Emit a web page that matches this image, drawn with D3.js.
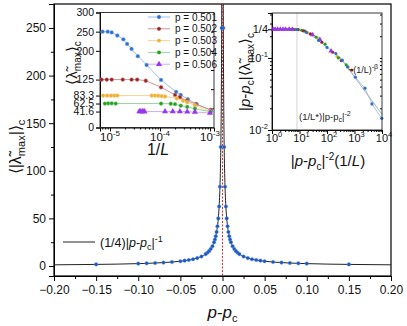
<!DOCTYPE html>
<html><head><meta charset="utf-8">
<script src="https://cdn.jsdelivr.net/npm/d3@7"></script>
<style>body{margin:0;background:#fff}svg{font-family:"Liberation Sans",Arial,sans-serif}</style>
</head><body><svg id="c" width="407" height="326"></svg>
<script>
// ---------- DATA ----------
// main plot: p - pc and <|lambda_max|>_c
const mainDp = [0.001,0.002,0.003,0.004,0.005,0.006,0.007,0.008,0.009,0.010,0.012,0.014,0.016,0.018,0.020,0.025,0.030,0.035,0.040,0.045,0.050,0.060,0.070,0.080,0.090,0.100,0.150];
const mainVal = [250,125,83.3,62.5,50,41.7,35.7,31.3,27.8,25,20.8,17.9,15.6,13.9,12.5,10,8.3,7.1,6.3,5.6,5,4.2,3.6,3.1,2.8,2.5,1.7];
const fitCoef = 0.25; // (1/4)|p-pc|^-1
const mainXTicks = [-0.20,-0.15,-0.10,-0.05,0.00,0.05,0.10,0.15,0.20];
const mainYTicks = [0,50,100,150,200,250];

// inset 1: <lambda_max>_c vs 1/L
const seriesNames = ["p = 0.501","p = 0.502","p = 0.503","p = 0.504","p = 0.506"];
const s501x = [7.1e-6,9.0e-6,1.08e-5,1.4e-5,1.85e-5,2.2e-5,2.7e-5,3.6e-5,5.4e-5,1.05e-4,2.1e-4,2.6e-4,3.6e-4,5.4e-4,1.08e-3];
const s501y = [250,250,248,240,230,218,205,186,163,124,93,85,74,61,44];
const s502x = [6.8e-6,8.6e-6,1.08e-5,1.8e-5,2.7e-5,3.5e-5,5.2e-5,1.05e-4,2.0e-4,2.5e-4,3.5e-4,5.2e-4,1.03e-3];
const s502y = [125,125,125,125,125,125,122,105,85,79,70,61,46];
const s503x = [7.3e-6,8.8e-6,1.05e-5,1.22e-5,1.4e-5,6.8e-5,7.9e-5,9.2e-5,1.08e-4,1.26e-4,2.16e-4,2.9e-4,3.5e-4,5.0e-4,1.0e-3];
const s503y = [83.3,83.3,83.3,83.3,83.3,83.3,83.3,83,82,81,76,70,66,58,42];
const s504x = [7.9e-6,9.2e-6,1.08e-5,1.3e-5,1.05e-4,1.64e-4,2.0e-4,2.6e-4,3.5e-4,5.0e-4,1.03e-3];
const s504y = [62.5,63,63,62.5,62.5,62,61,57,54,49,41];
const s506x = [3.85e-5,4.1e-5,4.4e-5,4.6e-5,4.9e-5,1.26e-4,1.8e-4,2.5e-4,3.5e-4,5.0e-4,1.0e-3];
const s506y = [41.6,41.6,41.6,41.6,41.6,41.6,41.6,41.5,41,40.5,38];
const in1YTicks = [0,41.6,62.5,83.3,125,200,250,300];
const in1YTickLabels = ["0","41.6","62.5","83.3","125","200","250","300"];
const in1XTicks = [1e-5,1e-4,1e-3];

// inset 2: scaling collapse
const colPurpleX = [1.1,1.3,1.6,2.0,2.5,3.1,4.2,5.5,30,55,140];
const colPurpleY = [0.25,0.25,0.25,0.25,0.25,0.25,0.25,0.249,0.21,0.18,0.125];
const colYellowX = [1.2,1.5,1.8,2.3,2.8,3.6,4.8,6.2,7.5,20,45,230,600];
const colYellowY = [0.25,0.25,0.25,0.25,0.25,0.25,0.25,0.249,0.248,0.222,0.19,0.105,0.075];
const colGreenX = [4.0,5.0,6.8,12,16,40,85,260,500];
const colGreenY = [0.25,0.25,0.248,0.242,0.235,0.195,0.155,0.1,0.08];
const colRedX = [5.8,9,14,25,65,160,330,800];
const colRedY = [0.25,0.247,0.238,0.215,0.165,0.12,0.092,0.068];
const colBlueX = [8,18,50,100,210,360,560,1070,2400,4300,9800];
const colBlueY = [0.248,0.226,0.175,0.14,0.115,0.093,0.075,0.054,0.038,0.023,0.0145];
const guideX = [280,10000];
const guideY = [0.105,0.0165];
const crossX = 8.1;
const in2XTicks = [1,10,100,1000,10000];
const in2YTicks = [0.25,0.1,0.01];

// ---------- DRAW ----------
const svg = d3.select("#c");
const F = "Liberation Sans, Arial, sans-serif";

// main scales
const mL=54,mR=391,mT=4,mB=276;
const x = d3.scaleLinear().domain([-0.2,0.2]).range([mL,mR]);
const y = d3.scaleLinear().domain([-10.5,275.2]).range([mB,mT]);

svg.append("g").attr("transform",`translate(0,${mB})`)
  .call(d3.axisBottom(x).tickValues(mainXTicks).tickFormat(d3.format(".2f")).tickSize(5).tickPadding(4));
svg.append("g").attr("transform",`translate(0,${mB})`)
  .call(d3.axisBottom(x).tickValues(d3.range(-0.175,0.2,0.05)).tickFormat("").tickSize(3));
svg.append("g").attr("transform",`translate(${mL},0)`)
  .call(d3.axisLeft(y).tickValues(mainYTicks).tickSize(5).tickPadding(3));
svg.append("g").attr("transform",`translate(${mL},0)`)
  .call(d3.axisLeft(y).tickValues([25,75,125,175,225]).tickFormat("").tickSize(3));
svg.selectAll(".domain").attr("stroke","#000");
svg.selectAll(".tick text").attr("font-size",12).attr("font-family",F).attr("fill","#111");
svg.append("rect").attr("x",mL).attr("y",mT).attr("width",mR-mL).attr("height",mB-mT)
  .attr("fill","none").attr("stroke","#000").attr("stroke-width",1.2);

svg.append("clipPath").attr("id","mclip").append("rect").attr("x",mL).attr("y",mT).attr("width",mR-mL).attr("height",mB-mT);
const mg = svg.append("g").attr("clip-path","url(#mclip)");

// fit curve (1/4)|p-pc|^-1 evaluated at sample abscissae
const fitXs = [0.2,0.15,0.1,0.07,0.05,0.04,0.03,0.025,0.02,0.016,0.013,0.01,0.008,0.0065,0.005,0.004,0.0033,0.0027,0.0022,0.0018,0.0015,0.0012,0.001,0.0009,0.00085];
const fitPts = fitXs.map(d=>[d,fitCoef/d]);
const line = d3.line().x(d=>x(d[0])).y(d=>y(d[1])).curve(d3.curveMonotoneX);
mg.append("path").attr("d",line(fitPts)).attr("fill","none").attr("stroke","#222").attr("stroke-width",1);
mg.append("path").attr("d",line(fitPts.map(d=>[-d[0],d[1]]).reverse())).attr("fill","none").attr("stroke","#222").attr("stroke-width",1);

mg.append("line").attr("x1",x(0)).attr("x2",x(0)).attr("y1",mT).attr("y2",mB)
  .attr("stroke","#d03030").attr("stroke-width",1).attr("stroke-dasharray","2,1.5");

const mainPts = mainDp.flatMap((d,i)=>[[d,mainVal[i]],[-d,mainVal[i]]]);
mg.selectAll("circle.m").data(mainPts).enter().append("circle")
  .attr("cx",d=>x(d[0])).attr("cy",d=>y(d[1])).attr("r",1.8)
  .attr("fill","#1a57c4").attr("stroke","#6a9be0").attr("stroke-width",0.4);

// legend
svg.append("line").attr("x1",63).attr("x2",95).attr("y1",242).attr("y2",242).attr("stroke","#222");
const lt = svg.append("text").attr("x",100).attr("y",246.5).attr("font-size",12.5).attr("font-family",F).attr("fill","#111");
lt.append("tspan").text("(1/4)|");
lt.append("tspan").attr("font-style","italic").text("p");
lt.append("tspan").text("-");
lt.append("tspan").attr("font-style","italic").text("p");
lt.append("tspan").attr("font-size",9).attr("dy",3).text("c");
lt.append("tspan").attr("dy",-3).text("|");
lt.append("tspan").attr("font-size",9).attr("dy",-5).text("-1");

const yl = svg.append("text").attr("transform","translate(21,147) rotate(-90)").attr("text-anchor","middle")
  .attr("font-size",16).attr("font-family",F).attr("fill","#111");
yl.append("tspan").text("\u27E8|\u03BB\u0303");
yl.append("tspan").attr("font-size",11).attr("dy",4).text("max");
yl.append("tspan").attr("dy",-4).text("|\u27E9");
yl.append("tspan").attr("font-size",11).attr("dy",4).text("c");
const xl = svg.append("text").attr("x",x(0)).attr("y",318).attr("text-anchor","middle")
  .attr("font-size",17).attr("font-family",F).attr("fill","#111");
xl.append("tspan").attr("font-style","italic").text("p");
xl.append("tspan").text("-");
xl.append("tspan").attr("font-style","italic").text("p");
xl.append("tspan").attr("font-size",11).attr("dy",4).text("c");

// ---------- INSET 1 ----------
const aL=100,aR=214,aT=12.5,aB=127.5;
svg.append("rect").attr("x",aL).attr("y",aT).attr("width",aR-aL).attr("height",aB-aT).attr("fill","#fff");
const ax = d3.scaleLog().domain([Math.pow(10,-5.2),Math.pow(10,-2.92)]).range([aL,aR]);
const ay = d3.scaleLinear().domain([0,300]).range([aB,aT]);
const g1 = svg.append("g");
const a1y = g1.append("g").attr("transform",`translate(${aL},0)`)
  .call(d3.axisLeft(ay).tickValues(in1YTicks).tickFormat((d,i)=>in1YTickLabels[i]).tickSize(4).tickPadding(2));
a1y.selectAll("text").attr("font-size",10.5).attr("font-family",F).attr("fill","#111");
g1.append("g").attr("transform",`translate(${aR},0)`)
  .call(d3.axisLeft(ay).tickValues([50,100,150,200,250]).tickFormat("").tickSize(3)).select(".domain").remove();
const minor1 = [];
[-6,-5,-4,-3].forEach(e=>{for(let k=2;k<10;k++){const v=k*Math.pow(10,e); if(v>ax.domain()[0]&&v<ax.domain()[1]) minor1.push(v);}});
g1.append("g").attr("transform",`translate(0,${aB})`).call(d3.axisBottom(ax).tickValues(minor1).tickFormat("").tickSize(2)).select(".domain").remove();
g1.append("g").attr("transform",`translate(0,${aB})`)
  .call(d3.axisBottom(ax).tickValues(in1XTicks).tickFormat("").tickSize(4));
in1XTicks.forEach(v=>{
  const t = g1.append("text").attr("x",ax(v)).attr("y",aB+13).attr("text-anchor","middle").attr("font-size",11.5).attr("font-family",F).attr("fill","#111");
  t.append("tspan").text("10");
  t.append("tspan").attr("font-size",8).attr("dy",-5).text(String(Math.round(Math.log10(v))));
});
g1.append("rect").attr("x",aL).attr("y",aT).attr("width",aR-aL).attr("height",aB-aT).attr("fill","none").attr("stroke","#222").attr("stroke-width",0.9);

const in1Series = [
  {x:s501x,y:s501y,c:"#2a6fd6",lc:"#8fb6ee",m:"c"},
  {x:s502x,y:s502y,c:"#9c2222",lc:"#c98a8a",m:"c"},
  {x:s503x,y:s503y,c:"#efb031",lc:"#f4cf82",m:"c"},
  {x:s504x,y:s504y,c:"#1fa31f",lc:"#8fd08f",m:"c"},
  {x:s506x,y:s506y,c:"#9b36f0",lc:"#c9a2f3",m:"t"}
];
const l1 = d3.line().x(d=>ax(d[0])).y(d=>ay(d[1]));
const tri = d3.symbol().type(d3.symbolTriangle).size(16);
in1Series.forEach(s=>{
  const pts = s.x.map((v,i)=>[v,s.y[i]]);
  g1.append("path").attr("d",l1(pts)).attr("fill","none").attr("stroke",s.lc).attr("stroke-width",0.9);
  pts.forEach(p=>{
    if(s.m==="t") g1.append("path").attr("d",tri()).attr("transform",`translate(${ax(p[0])},${ay(p[1])})`).attr("fill",s.c);
    else g1.append("circle").attr("cx",ax(p[0])).attr("cy",ay(p[1])).attr("r",1.9).attr("fill",s.c).attr("stroke",s.lc).attr("stroke-width",0.5);
  });
});
seriesNames.forEach((n,i)=>{
  const yy = 17 + i*11.8, s = in1Series[i];
  g1.append("line").attr("x1",148).attr("x2",170).attr("y1",yy).attr("y2",yy).attr("stroke",s.lc).attr("stroke-width",0.9);
  if(s.m==="t") g1.append("path").attr("d",tri()).attr("transform",`translate(159,${yy})`).attr("fill",s.c);
  else g1.append("circle").attr("cx",159).attr("cy",yy).attr("r",1.9).attr("fill",s.c);
  g1.append("text").attr("x",175).attr("y",yy+3.5).attr("font-size",10).attr("font-family",F).attr("fill","#111").text(n);
});
const y1l = svg.append("text").attr("transform","translate(77,63) rotate(-90)").attr("text-anchor","middle")
  .attr("font-size",15).attr("font-family",F).attr("fill","#111");
y1l.append("tspan").text("\u27E8\u03BB\u0303");
y1l.append("tspan").attr("font-size",10).attr("dy",4).text("max");
y1l.append("tspan").attr("dy",-4).text("\u27E9");
y1l.append("tspan").attr("font-size",10).attr("dy",4).text("c");
const x1l = svg.append("text").attr("x",158).attr("y",155).attr("text-anchor","middle")
  .attr("font-size",16).attr("font-family",F).attr("fill","#111");
x1l.append("tspan").text("1/");
x1l.append("tspan").attr("font-style","italic").text("L");

// ---------- INSET 2 ----------
const bL=272,bR=382,bT=13,bB=130;
svg.append("rect").attr("x",bL).attr("y",bT).attr("width",bR-bL).attr("height",bB-bT).attr("fill","#fff");
const bx = d3.scaleLog().domain([1,1e4]).range([bL,bR]);
const by = d3.scaleLog().domain([0.01,0.42]).range([bB,bT]);
const g2 = svg.append("g");
const minor2x=[],minor2y=[];
[0,1,2,3].forEach(e=>{for(let k=2;k<10;k++) minor2x.push(k*Math.pow(10,e));});
[-2,-1].forEach(e=>{for(let k=2;k<10;k++){const v=k*Math.pow(10,e); if(v<0.42) minor2y.push(v);}});
g2.append("g").attr("transform",`translate(0,${bB})`).call(d3.axisBottom(bx).tickValues(minor2x).tickFormat("").tickSize(2)).select(".domain").remove();
g2.append("g").attr("transform",`translate(0,${bB})`).call(d3.axisBottom(bx).tickValues(in2XTicks).tickFormat("").tickSize(4));
g2.append("g").attr("transform",`translate(${bL},0)`).call(d3.axisLeft(by).tickValues(minor2y).tickFormat("").tickSize(2)).select(".domain").remove();
g2.append("g").attr("transform",`translate(${bL},0)`).call(d3.axisLeft(by).tickValues(in2YTicks).tickFormat("").tickSize(4));
g2.append("g").attr("transform",`translate(${bR},0)`).call(d3.axisLeft(by).tickValues(minor2y.concat([0.1])).tickFormat("").tickSize(2)).select(".domain").remove();
in2XTicks.forEach(v=>{
  const t = g2.append("text").attr("x",bx(v)+2).attr("y",bB+12).attr("text-anchor","middle").attr("font-size",11).attr("font-family",F).attr("fill","#111");
  t.append("tspan").text("10");
  t.append("tspan").attr("font-size",7.5).attr("dy",-5).text(String(Math.round(Math.log10(v))));
});
[[0.25,"1/4",null],[0.1,"10","-1"],[0.01,"10","-2"]].forEach(d=>{
  const t = g2.append("text").attr("x",bL-4).attr("y",by(d[0])+4).attr("text-anchor","end").attr("font-size",11).attr("font-family",F).attr("fill","#111");
  t.append("tspan").text(d[1]);
  if(d[2]) t.append("tspan").attr("font-size",7.5).attr("dy",-5).text(d[2]);
});
g2.append("line").attr("x1",bx(crossX)).attr("x2",bx(crossX)).attr("y1",bT).attr("y2",bB).attr("stroke","#c8c8c8").attr("stroke-width",0.8);
const l2 = d3.line().x(d=>bx(d[0])).y(d=>by(d[1]));
g2.append("path").attr("d",l2(guideX.map((v,i)=>[v,guideY[i]]))).attr("stroke","#9a9a9a").attr("stroke-width",0.8).attr("fill","none");
g2.append("path").attr("d",l2(colBlueX.map((v,i)=>[v,colBlueY[i]]))).attr("stroke","#8fb6ee").attr("stroke-width",0.8).attr("fill","none");
const colSets = [
  {x:colYellowX,y:colYellowY,c:"#efb031",m:"c"},
  {x:colGreenX,y:colGreenY,c:"#1fa31f",m:"c"},
  {x:colRedX,y:colRedY,c:"#9c2222",m:"c"},
  {x:colPurpleX,y:colPurpleY,c:"#9b36f0",m:"t"},
  {x:colBlueX,y:colBlueY,c:"#2a6fd6",m:"c"}
];
const tri2 = d3.symbol().type(d3.symbolTriangle).size(12);
colSets.forEach(s=>{
  s.x.forEach((v,i)=>{
    if(s.m==="t") g2.append("path").attr("d",tri2()).attr("transform",`translate(${bx(v)},${by(s.y[i])})`).attr("fill",s.c);
    else g2.append("circle").attr("cx",bx(v)).attr("cy",by(s.y[i])).attr("r",1.6).attr("fill",s.c);
  });
});
g2.append("rect").attr("x",bL).attr("y",bT).attr("width",bR-bL).attr("height",bB-bT).attr("fill","none").attr("stroke","#222").attr("stroke-width",0.9);
const ann1 = g2.append("text").attr("x",348).attr("y",73).attr("font-size",9).attr("font-family",F).attr("fill","#222");
ann1.append("tspan").text("~(1/L)");
ann1.append("tspan").attr("font-size",7).attr("dy",-4).text("-\u03B2");
const ann2 = g2.append("text").attr("x",299).attr("y",120).attr("font-size",9.5).attr("font-family",F).attr("fill","#222");
ann2.append("tspan").text("(1/L*)|p-p");
ann2.append("tspan").attr("font-size",7).attr("dy",2).text("c");
ann2.append("tspan").attr("dy",-2).text("|");
ann2.append("tspan").attr("font-size",7).attr("dy",-4).text("-2");
const y2l = svg.append("text").attr("transform","translate(250,72) rotate(-90)").attr("text-anchor","middle")
  .attr("font-size",15).attr("font-family",F).attr("fill","#111");
y2l.append("tspan").text("|");
y2l.append("tspan").attr("font-style","italic").text("p");
y2l.append("tspan").text("-");
y2l.append("tspan").attr("font-style","italic").text("p");
y2l.append("tspan").attr("font-size",10).attr("dy",4).text("c");
y2l.append("tspan").attr("dy",-4).text("|\u27E8\u03BB\u0303");
y2l.append("tspan").attr("font-size",10).attr("dy",4).text("max");
y2l.append("tspan").attr("dy",-4).text("\u27E9");
y2l.append("tspan").attr("font-size",10).attr("dy",4).text("c");
const x2l = svg.append("text").attr("x",328).attr("y",166).attr("text-anchor","middle")
  .attr("font-size",15).attr("font-family",F).attr("fill","#111");
x2l.append("tspan").text("|");
x2l.append("tspan").attr("font-style","italic").text("p");
x2l.append("tspan").text("-");
x2l.append("tspan").attr("font-style","italic").text("p");
x2l.append("tspan").attr("font-size",10).attr("dy",4).text("c");
x2l.append("tspan").attr("dy",-4).text("|");
x2l.append("tspan").attr("font-size",10).attr("dy",-6).text("-2");
x2l.append("tspan").attr("dy",6).text("(1/");
x2l.append("tspan").attr("font-style","italic").text("L");
x2l.append("tspan").text(")");
</script></body></html>
